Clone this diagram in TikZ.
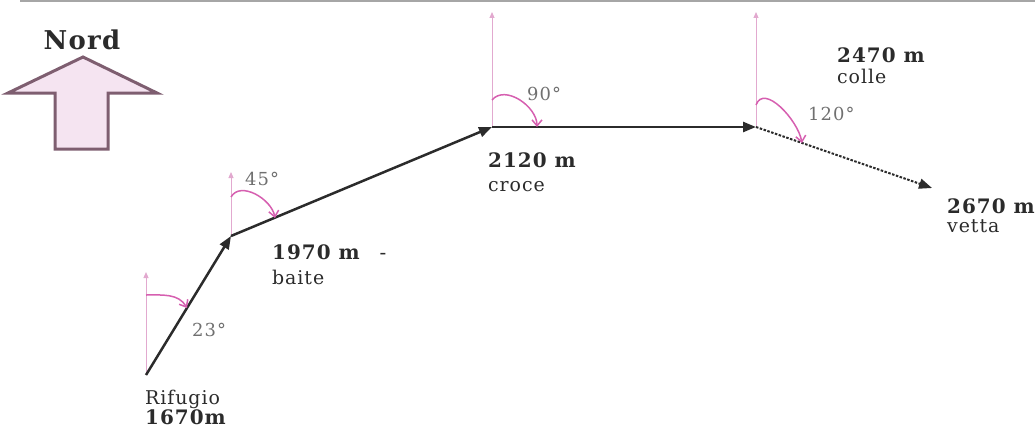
\documentclass[tikz,border=0pt]{standalone}
\usepackage{fontspec}
\setmainfont{DejaVu Serif}
\newfontfamily\labelfont[LetterSpace=5]{DejaVu Serif}
\newfontfamily\degfont[LetterSpace=6]{DejaVu Serif}
\usetikzlibrary{arrows.meta}

\definecolor{routegray}{HTML}{2B2B2B}
\definecolor{northpink}{HTML}{E2A9CF}
\definecolor{arcpink}{HTML}{D65FB0}
\definecolor{deggray}{HTML}{707070}
\definecolor{nordline}{HTML}{7E5E70}
\definecolor{nordfill}{HTML}{F5E4F1}

\begin{document}
\begin{tikzpicture}[x=1bp, y=1bp,
  every node/.style={inner sep=0pt, anchor=base west},
  alt/.style={font=\labelfont\fontsize{20}{20}\selectfont\bfseries, text=routegray},
  place/.style={font=\labelfont\fontsize{19}{19}\selectfont, text=routegray},
  deg/.style={font=\degfont\fontsize{18}{18}\selectfont, text=deggray},
  leg/.style={draw=routegray, line width=2.5bp, -{Triangle[length=13bp,width=10bp]}},
  legdot/.style={leg, line width=2bp, dash pattern=on 2.5bp off 1.5bp},
  north/.style={draw=northpink, line width=1bp, -{Triangle[length=6bp,width=5bp]}},
  turn/.style={draw=arcpink, line width=1.5bp, -{Straight Barb[length=6bp,width=10bp]}}
]
\useasboundingbox (0,0) rectangle (1035,427);
\draw[gray!70, line width=2bp] (20,426) -- (1035,426);

% north
\node[font=\labelfont\fontsize{26}{26}\selectfont\bfseries, text=routegray, anchor=base] (nord) at (82,378) {Nord};
\draw[draw=nordline, fill=nordfill, line width=3bp, line join=miter]
  (83,370) -- (157,334) -- (108,334) -- (108,278) -- (55,278) -- (55,334) -- (8,334) -- cycle;

% stops
\coordinate (rif) at (146,52);
\coordinate (baite) at (231,191);
\coordinate (croce) at (492,300);
\coordinate (colle) at (756,300);
\coordinate (vetta) at (932,239);

\coordinate (rif-n) at (146,155);
\coordinate (baite-n) at (231,255);
\coordinate (croce-n) at (492,415);
\coordinate (colle-n) at (756,415);

\coordinate (rif-s) at (146,132);   \coordinate (rif-e) at (187,119);
\coordinate (baite-s) at (231,230); \coordinate (baite-e) at (275,209);
\coordinate (croce-s) at (492,327); \coordinate (croce-e) at (537,300);
\coordinate (colle-s) at (756,322); \coordinate (colle-e) at (802,284);

\draw[north] (rif) -- (rif-n);
\draw[north] (baite) -- (baite-n);
\draw[north] (croce) -- (croce-n);
\draw[north] (colle) -- (colle-n);

\draw[leg] (rif) -- (baite);
\draw[leg] (baite) -- (croce);
\draw[leg] (croce) -- (colle);
\draw[legdot] (colle) -- (vetta);

\draw[turn] (rif-s) to[out=0, in=120] (rif-e);
\draw[turn] (baite-s) to[out=60, in=100] (baite-e);
\draw[turn] (croce-s) to[out=50, in=90] (croce-e);
\draw[turn] (colle-s) to[out=70, in=100] (colle-e);

% labels
\node[deg] (rif-deg) at (192,91) {23°};
\node[place] (rif-name) at (145,23) {Rifugio};
\node[alt] (rif-alt) at (145,3) {1670m};
\node[deg] (baite-deg) at (245,242) {45°};
\node[alt] (baite-alt) at (272,168) {1970 m\quad\mdseries-};
\node[place] (baite-name) at (272,143) {baite};
\node[deg] (croce-deg) at (527,327) {90°};
\node[alt] (croce-alt) at (488,260) {2120 m};
\node[place] (croce-name) at (488,236) {croce};
\node[deg] (colle-deg) at (808,307) {120°};
\node[alt] (colle-alt) at (837,365) {2470 m};
\node[place] (colle-name) at (837,344) {colle};
\node[alt] (vetta-alt) at (947,214) {2670 m};
\node[place] (vetta-name) at (947,195) {vetta};
\end{tikzpicture}
\end{document}
